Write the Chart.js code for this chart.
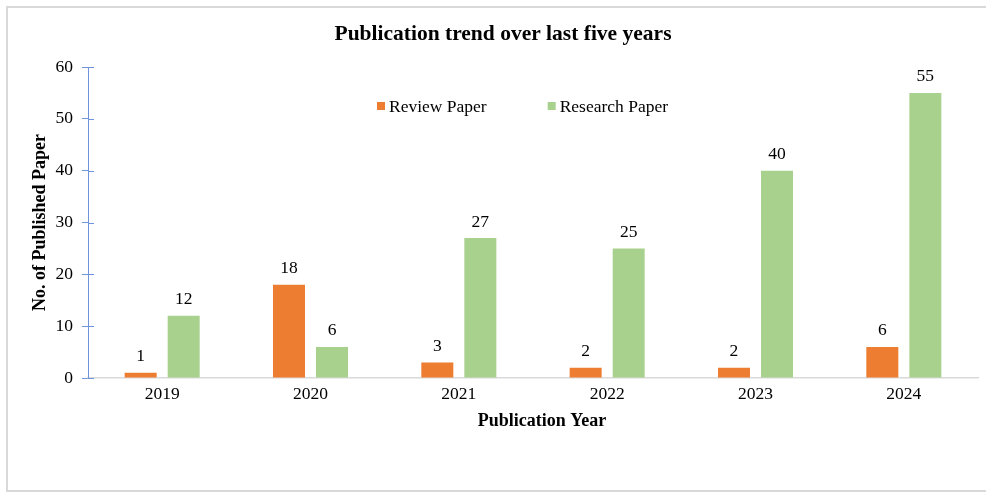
<!DOCTYPE html>
<html><head><meta charset="utf-8">
<script src="https://cdn.jsdelivr.net/npm/chart.js@4/dist/chart.umd.min.js"></script>
<style>html,body{margin:0;padding:0;background:#fff}#wrap{width:986px;height:493px;position:relative}</style>
</head><body><div id="wrap"><canvas id="c" width="986" height="493"></canvas></div>
<script>
const years = ['2019','2020','2021','2022','2023','2024'];
const reviewPapers = [1,18,3,2,2,6];
const researchPapers = [12,6,27,25,40,55];
const seriesNames = ['Review Paper','Research Paper'];
const seriesColors = ['#ED7D31','#A9D18E'];
const yMin = 0, yMax = 60, yStep = 10;
const xAxisTitle = 'Publication Year';

const SERIF = "'Liberation Serif','Times New Roman',serif";
const AXIS_BLUE = '#6F94DB';

const framePlugin = {
  id:'frame',
  beforeDraw(chart){
    const ctx = chart.ctx;
    ctx.save();
    ctx.fillStyle = '#fff';
    ctx.fillRect(0,0,chart.width,chart.height);
    ctx.strokeStyle = '#D9D9D9';
    ctx.lineWidth = 2;
    ctx.strokeRect(7,7,980,484);
    ctx.restore();
  }
};

const extrasPlugin = {
  id:'extras',
  afterDatasetsDraw(chart){
    const ctx = chart.ctx;
    ctx.save();
    // data labels
    ctx.font = '17.5px ' + SERIF;
    ctx.fillStyle = '#000';
    ctx.textAlign = 'center';
    ctx.textBaseline = 'alphabetic';
    chart.data.datasets.forEach((ds, i) => {
      chart.getDatasetMeta(i).data.forEach((bar, j) => {
        ctx.fillText(String(ds.data[j]), bar.x, bar.y - 11.5);
      });
    });
    // inward half of y ticks (cross ticks)
    const ys = chart.scales.y;
    ctx.strokeStyle = AXIS_BLUE;
    ctx.lineWidth = 1;
    ys.ticks.forEach(t => {
      const py = Math.round(ys.getPixelForValue(t.value)) + 0.5;
      ctx.beginPath();
      ctx.moveTo(ys.right, py);
      ctx.lineTo(ys.right + 6, py);
      ctx.stroke();
    });
    // x axis title
    const xs = chart.scales.x;
    ctx.font = 'bold 18px ' + SERIF;
    ctx.textAlign = 'center';
    ctx.textBaseline = 'middle';
    ctx.fillStyle = '#000';
    ctx.fillText(xAxisTitle, (xs.left + xs.right) / 2 + 9, 421);
    // legend inside plot area
    let x = 377;
    const cy = 106;
    ctx.textAlign = 'left';
    ctx.textBaseline = 'middle';
    ctx.font = '17.5px ' + SERIF;
    chart.data.datasets.forEach((ds) => {
      ctx.fillStyle = ds.backgroundColor;
      ctx.fillRect(x, cy - 4, 8, 8);
      ctx.fillStyle = '#000';
      ctx.fillText(ds.label, x + 12, cy + 1);
      x += 12 + ctx.measureText(ds.label).width + 61;
    });
    ctx.restore();
  }
};

new Chart(document.getElementById('c'), {
  type:'bar',
  data:{
    labels: years,
    datasets:[
      {label: seriesNames[0], data: reviewPapers, backgroundColor: seriesColors[0]},
      {label: seriesNames[1], data: researchPapers, backgroundColor: seriesColors[1]}
    ]
  },
  options:{
    responsive:false,
    animation:false,
    devicePixelRatio:1,
    categoryPercentage:0.58,
    barPercentage:0.744,
    layout:{padding:{left:28,right:8,top:0,bottom:0}},
    plugins:{
      legend:{display:false},
      tooltip:{enabled:false},
      title:{
        display:true,
        text:'Publication trend over last five years',
        color:'#000',
        font:{family:SERIF, size:21.5, weight:'bold'},
        padding:{top:22,bottom:19.2}
      }
    },
    scales:{
      x:{
        afterFit(s){ s.height = 115; },
        grid:{display:true, drawOnChartArea:false, drawTicks:false},
        border:{display:true, color:'#D9D9D9', width:1.5},
        ticks:{color:'#000', font:{family:SERIF, size:17.5}, padding:6}
      },
      y:{
        min:yMin, max:yMax,
        afterFit(s){ s.width = 60; },
        grid:{display:true, drawOnChartArea:false, drawTicks:true, tickLength:6, color:AXIS_BLUE},
        border:{display:true, color:AXIS_BLUE, width:1},
        ticks:{stepSize:yStep, color:'#000', font:{family:SERIF, size:17.5}, padding:9},
        title:{display:true, text:'No. of Published Paper', color:'#000',
          font:{family:SERIF, size:18, weight:'bold'}, padding:{top:1.2,bottom:0}}
      }
    }
  },
  plugins:[framePlugin, extrasPlugin]
});
</script>
</body></html>
